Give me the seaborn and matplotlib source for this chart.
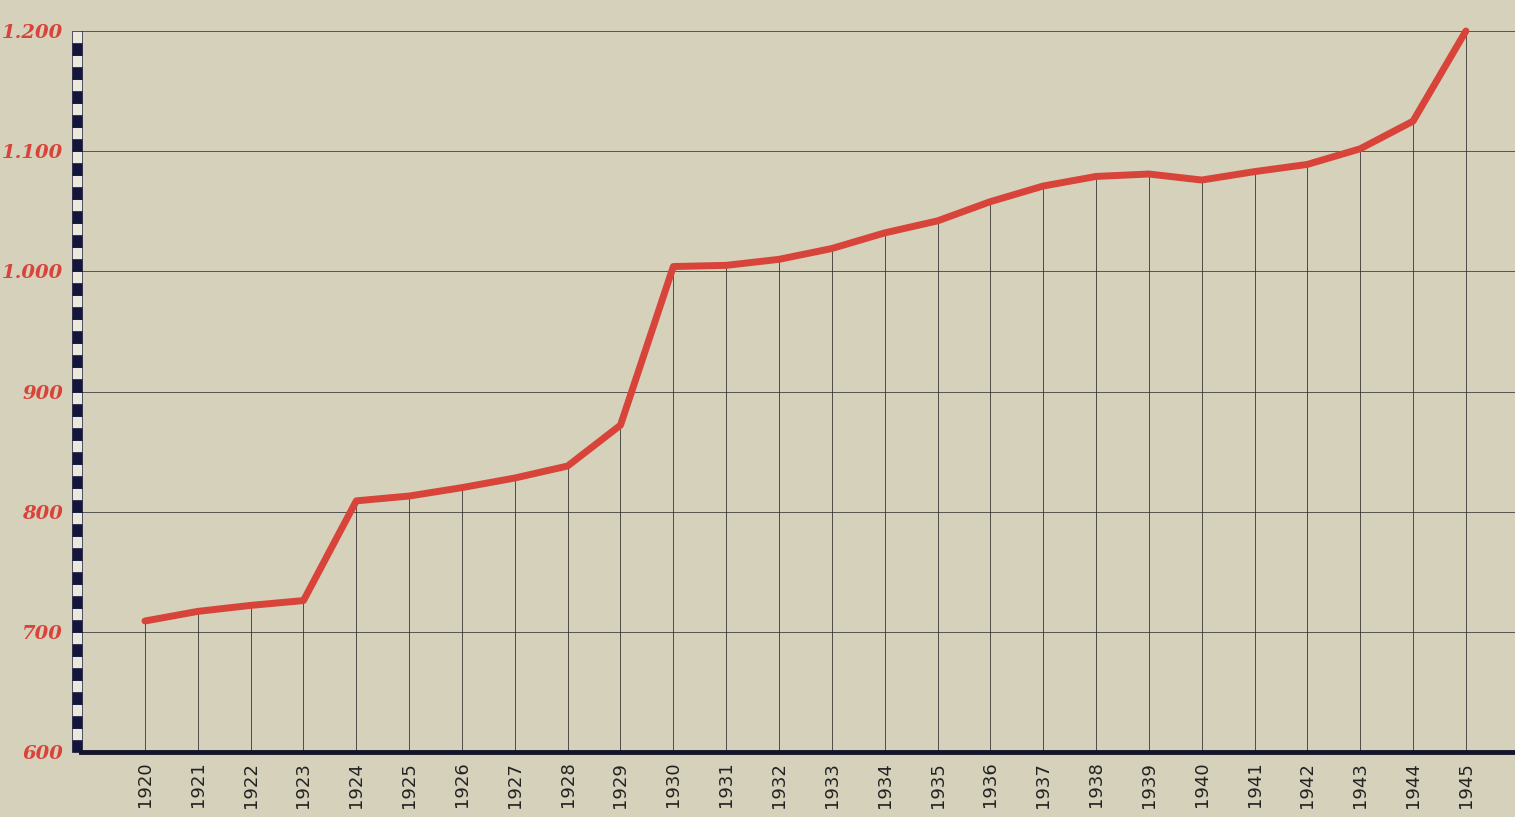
import numpy as np
import pandas as pd
import seaborn as sns
import matplotlib.pyplot as plt
from matplotlib.patches import Rectangle
import matplotlib.transforms as mtransforms

# values
years = list(range(1920, 1946))
values = [709, 717, 722, 726, 809, 813, 820, 828, 838, 872,
          1004, 1005, 1010, 1019, 1032, 1042, 1058, 1071, 1079, 1081,
          1076, 1083, 1089, 1102, 1125, 1200]
y_ticks = [600, 700, 800, 900, 1000, 1100, 1200]
y_labels = ["600", "700", "800", "900", "1.000", "1.100", "1.200"]

paper = "#d6d1bb"
red = "#d8433a"
ink = "#2b2a2a"

df = pd.DataFrame({"year": years, "value": values})

sns.set_style("white")
plt.rcParams["font.family"] = ["DejaVu Sans"]

fig = plt.figure(figsize=(15.15, 8.17), dpi=100, facecolor=paper)
ax = fig.add_axes([0.0535, 0.0796, 0.9465, 0.8824])
ax.set_facecolor(paper)

ax.set_xlim(1918.79, 1945.93)
ax.set_ylim(600, 1200)

# horizontal rules, full width
for v in y_ticks[1:]:
    ax.axhline(v, color=ink, lw=0.7, alpha=0.75, zorder=1)

# drop lines from the base to each point
ax.vlines(df["year"], 600, df["value"], color=ink, lw=0.7, alpha=0.8, zorder=1)

sns.lineplot(data=df, x="year", y="value", color=red, lw=5, ax=ax,
             zorder=3, clip_on=False)

# checkered left axis
trans = mtransforms.blended_transform_factory(ax.transAxes, ax.transData)
for i, v in enumerate(range(600, 1200, 10)):
    c = "#13163a" if i % 2 == 0 else "#ece9dc"
    ax.add_patch(Rectangle((-0.006, v), 0.0065, 10, transform=trans,
                           facecolor=c, edgecolor="#13163a", lw=0.5,
                           clip_on=False, zorder=4))

for s in ["top", "right", "left"]:
    ax.spines[s].set_visible(False)
ax.spines["bottom"].set_color("#14142a")
ax.spines["bottom"].set_linewidth(3.5)
ax.spines["bottom"].set_zorder(5)

ax.set_xticks(years)
ax.set_xticklabels([str(y) for y in years], rotation=90, fontsize=13,
                   color="#222222")
ax.tick_params(axis="x", length=0, pad=7)

ax.set_yticks(y_ticks)
ax.set_yticklabels(y_labels, fontsize=14, color=red, style="italic",
                   family="DejaVu Serif", fontweight="bold")
ax.tick_params(axis="y", length=0, pad=13)

ax.set_xlabel("")
ax.set_ylabel("")
ax.grid(False)

fig.savefig("out.png", dpi=100, facecolor=paper)
